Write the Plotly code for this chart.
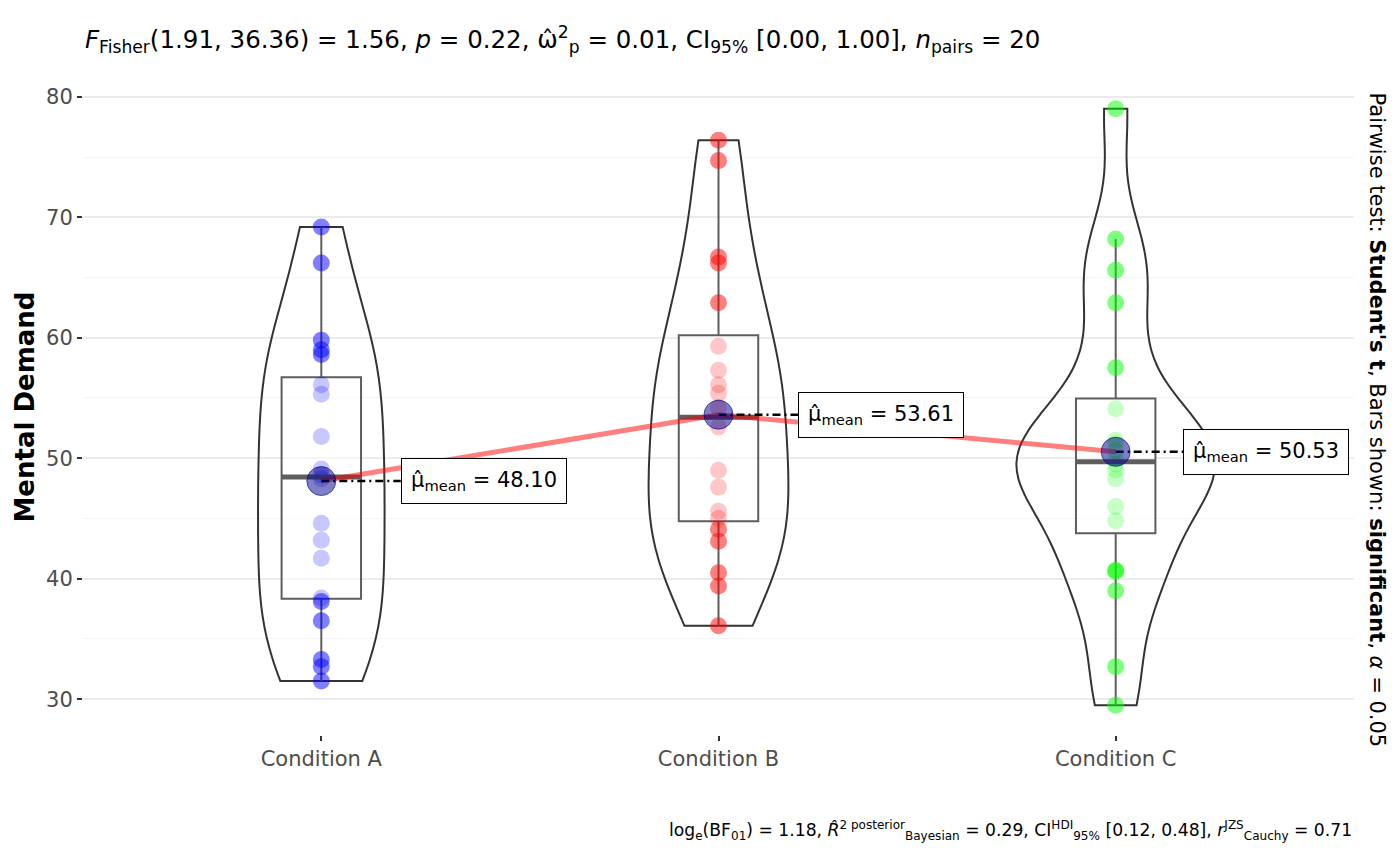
import numpy as np
import plotly.graph_objects as go

conditions = ['Condition A', 'Condition B', 'Condition C']
cond_a = [69.2, 66.2, 59.8, 59.0, 58.6, 56.1, 55.3, 51.8, 49.1, 48.6,
          48.3, 44.6, 43.2, 41.7, 38.4, 38.1, 36.5, 33.3, 32.7, 31.5]
cond_b = [76.4, 74.7, 66.7, 66.2, 62.9, 59.3, 57.3, 56.1, 55.4, 54.2,
          52.6, 49.0, 47.6, 45.6, 45.0, 44.1, 43.1, 40.5, 39.4, 36.1]
cond_c = [79.0, 68.2, 65.6, 62.9, 57.5, 54.1, 51.5, 51.2, 50.6, 49.9,
          49.5, 49.0, 48.3, 46.0, 44.8, 40.7, 40.6, 39.0, 32.7, 29.5]

title_text = ('<i>F</i><sub>Fisher</sub>(1.91, 36.36) = 1.56, <i>p</i> = 0.22, '
              'ω̂<sup>2</sup><sub>p</sub> = 0.01, CI<sub>95%</sub> [0.00, 1.00], '
              '<i>n</i><sub>pairs</sub> = 20')
caption_text = ('log<sub>e</sub>(BF<sub>01</sub>) = 1.18, <i>R̂</i><sup>2 posterior</sup>'
                '<sub>Bayesian</sub> = 0.29, CI<sup>HDI</sup><sub>95%</sub> [0.12, 0.48], '
                '<i>r</i><sup>JZS</sup><sub>Cauchy</sub> = 0.71')
side_text = ("Pairwise test: <b>Student's t</b>, Bars shown: <b>significant</b>, "
             "<i>α</i> = 0.05")

groups = [np.array(cond_a), np.array(cond_b), np.array(cond_c)]
colors = [(0, 0, 255), (255, 0, 0), (0, 255, 0)]
label_dx = [0.2, 0.2, 0.17]
pos = [1, 2, 3]
font = 'DejaVu Sans'


def nrd0(v):
    iqr = np.percentile(v, 75) - np.percentile(v, 25)
    return 0.9 * min(np.std(v, ddof=1), iqr / 1.34) * len(v) ** -0.2


def max_density(v, bw):
    grid = np.linspace(v.min(), v.max(), 512)
    d = np.exp(-0.5 * ((grid[:, None] - v[None, :]) / bw) ** 2).sum(axis=1)
    return (d / (len(v) * bw * np.sqrt(2 * np.pi))).max()


bws = [nrd0(v) for v in groups]
dmax = [max_density(v, bw) for v, bw in zip(groups, bws)]

fig = go.Figure()

# violins, scaled by area like ggplot
for i, v in enumerate(groups):
    fig.add_trace(go.Violin(
        y=v, x0=pos[i], width=0.5 * dmax[i] / max(dmax),
        scalemode='width', spanmode='hard', bandwidth=bws[i],
        points=False, fillcolor='rgba(0,0,0,0)',
        line=dict(color='#333333', width=2),
        hoverinfo='skip', showlegend=False
    ))

# boxes
stats = []
for i, v in enumerate(groups):
    q1, med, q3 = np.percentile(v, [25, 50, 75])
    iqr = q3 - q1
    lo = v[v >= q1 - 1.5 * iqr].min()
    hi = v[v <= q3 + 1.5 * iqr].max()
    stats.append((q1, med, q3))
    fig.add_trace(go.Box(
        x=[pos[i]], q1=[q1], median=[med], q3=[q3],
        lowerfence=[lo], upperfence=[hi], width=0.2, whiskerwidth=0,
        boxpoints=False, fillcolor='rgba(255,255,255,0.5)',
        line=dict(color='#5e5e5e', width=2),
        hoverinfo='skip', showlegend=False
    ))

# raw points (lighter where the box covers them)
for i, v in enumerate(groups):
    q1, med, q3 = stats[i]
    r, g, b = colors[i]
    cols = [f'rgba({r},{g},{b},0.22)' if q1 <= y <= q3 else f'rgba({r},{g},{b},0.5)'
            for y in v]
    fig.add_trace(go.Scatter(
        x=[pos[i]] * len(v), y=v, mode='markers',
        marker=dict(size=17, color=cols, line=dict(width=0)),
        showlegend=False
    ))

# thick median lines
for i in range(3):
    fig.add_trace(go.Scatter(
        x=[pos[i] - 0.1, pos[i] + 0.1], y=[stats[i][1]] * 2, mode='lines',
        line=dict(color='#5e5e5e', width=5), showlegend=False
    ))

means = [v.mean() for v in groups]

fig.add_trace(go.Scatter(
    x=pos, y=means, mode='lines',
    line=dict(color='rgba(255,0,0,0.5)', width=5), showlegend=False
))

for i in range(3):
    fig.add_trace(go.Scatter(
        x=[pos[i], pos[i] + label_dx[i]], y=[means[i]] * 2, mode='lines',
        line=dict(color='black', width=2.5, dash='8px,4px,2px,4px'), showlegend=False
    ))

fig.add_trace(go.Scatter(
    x=pos, y=means, mode='markers',
    marker=dict(size=29, color='rgba(0,0,139,0.5)',
                line=dict(color='rgba(0,0,139,0.6)', width=1)),
    showlegend=False
))

for i in range(3):
    fig.add_annotation(
        x=pos[i] + label_dx[i], y=means[i], xanchor='left', yanchor='middle',
        text=f'μ̂<sub>mean</sub> = {means[i]:.2f}', showarrow=False,
        bgcolor='white', bordercolor='black', borderwidth=1, borderpad=9,
        font=dict(family=font, size=21, color='black')
    )

fig.add_annotation(xref='paper', yref='paper', x=0, y=1.06, xanchor='left',
                   yanchor='middle', text=title_text, showarrow=False,
                   font=dict(family=font, size=24.5, color='black'))
fig.add_annotation(xref='paper', yref='paper', x=1, y=-0.145, xanchor='right',
                   yanchor='middle', text=caption_text, showarrow=False,
                   font=dict(family=font, size=17.2, color='black'))
fig.add_annotation(xref='paper', yref='paper', x=1.0177, y=0.48, xanchor='center',
                   yanchor='middle', text=side_text, textangle=90, showarrow=False,
                   font=dict(family=font, size=21, color='black'))
fig.add_annotation(xref='paper', yref='paper', x=-0.046, y=0.5, xanchor='center',
                   yanchor='middle', text='<b>Mental Demand</b>', textangle=-90,
                   showarrow=False, font=dict(family=font, size=26, color='black'))

all_vals = np.concatenate(groups)
span = all_vals.max() - all_vals.min()

fig.update_xaxes(range=[0.4, 3.6], tickvals=pos, ticktext=conditions,
                 ticks='outside', ticklen=5, tickwidth=1.5, tickcolor='#333333',
                 showgrid=False, zeroline=False, showline=False,
                 tickfont=dict(family=font, size=21, color='#4d4d4d'))
fig.update_yaxes(range=[all_vals.min() - 0.05 * span, all_vals.max() + 0.05 * span],
                 dtick=10, ticks='outside', ticklen=5, tickwidth=1.5,
                 tickcolor='#333333', gridcolor='#ebebeb', gridwidth=1.5,
                 zeroline=False, showline=False,
                 minor=dict(dtick=5, showgrid=True, gridcolor='#f4f4f4', gridwidth=1),
                 tickfont=dict(family=font, size=21, color='#4d4d4d'))

# page body adds an 8px margin, so the figure is 8px smaller than the window
fig.update_layout(width=1392, height=858, plot_bgcolor='white', paper_bgcolor='white',
                  margin=dict(l=75, r=46, t=71, b=131),
                  violinmode='overlay', boxmode='overlay')

fig.write_html('out.html')
